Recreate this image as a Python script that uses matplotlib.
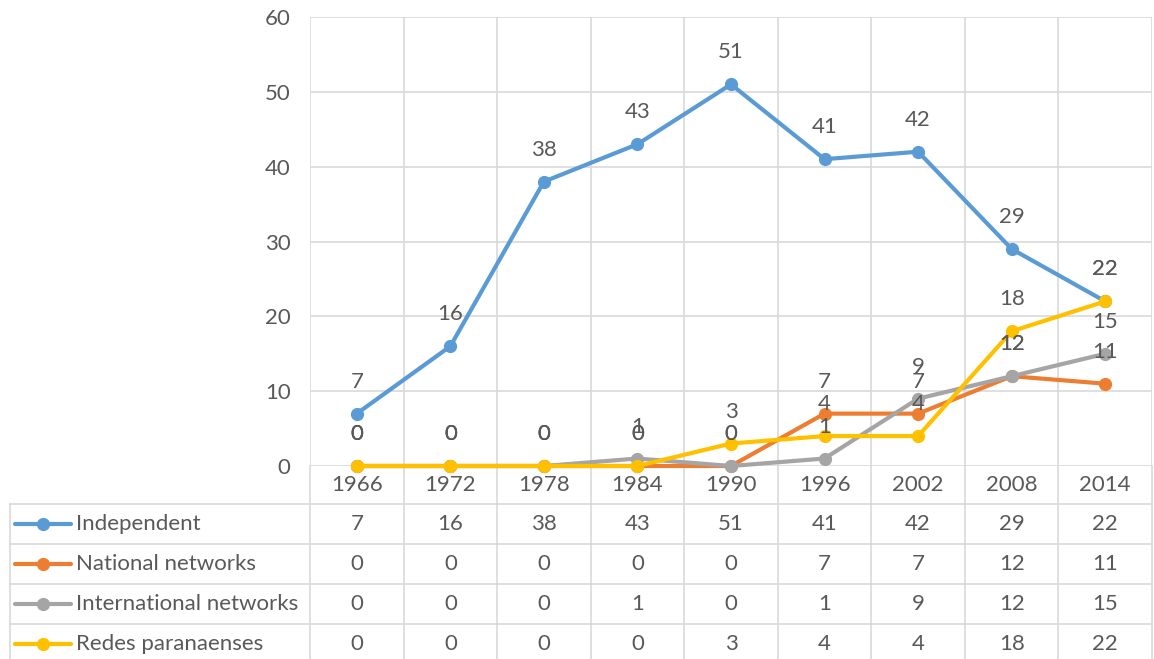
import matplotlib
matplotlib.use("Agg")
import matplotlib.pyplot as plt
import matplotlib.transforms as mtransforms

plt.rcParams["font.family"] = ["Lato", "DejaVu Sans"]

years = ["1966", "1972", "1978", "1984", "1990", "1996", "2002", "2008", "2014"]
independent = [7, 16, 38, 43, 51, 41, 42, 29, 22]
national = [0, 0, 0, 0, 0, 7, 7, 12, 11]
international = [0, 0, 0, 1, 0, 1, 9, 12, 15]
redes = [0, 0, 0, 0, 3, 4, 4, 18, 22]

names = ["Independent", "National networks", "International networks", "Redes paranaenses"]
series = [independent, national, international, redes]
colors = ["#5B9BD5", "#ED7D31", "#A5A5A5", "#FFC000"]

text_color = "#595959"
grid_color = "#D9D9D9"
fs = 16

W, H = 1154, 659
fig = plt.figure(figsize=(W / 100, H / 100), dpi=100)

# pixel layout
left, right, top, bottom = 310, 1152, 17, 466
ax = fig.add_axes([left / W, 1 - bottom / H, (right - left) / W, (bottom - top) / H])
tab = fig.add_axes([0, 0, 1, 1], zorder=-1)
tab.set_xlim(0, W)
tab.set_ylim(H, 0)
tab.axis("off")

x = list(range(len(years)))
for vals, col, name in zip(series, colors, names):
    ax.plot(x, vals, color=col, lw=3, marker="o", ms=8.5, solid_capstyle="round", clip_on=False)
    for xi, v in zip(x, vals):
        ax.annotate(str(v), (xi, v), xytext=(0, 23), textcoords="offset points",
                    ha="center", va="center", fontsize=fs, color=text_color)

ax.set_xlim(-0.5, len(years) - 0.5)
ax.set_ylim(0, 60)
ax.set_yticks(range(0, 61, 10))
ax.set_xticks([i - 0.5 for i in range(len(years) + 1)])
ax.set_xticklabels([])
ax.grid(True, color=grid_color, lw=1.2)
ax.tick_params(length=0, labelsize=fs, labelcolor=text_color, pad=14)
for s in ax.spines.values():
    s.set_visible(False)
ax.set_axisbelow(True)

# data table under the chart
blend = mtransforms.blended_transform_factory(ax.transData, tab.transData)
row_h = 40
table_top = 504
header_y = (bottom + table_top) / 2
table_bottom = table_top + row_h * len(series)

for i, yr in enumerate(years):
    tab.text(i, header_y, yr, transform=blend, ha="center", va="center",
             fontsize=fs, color=text_color)

for i in range(len(years) + 1):
    tab.plot([i - 0.5, i - 0.5], [bottom, table_bottom], transform=blend,
             color=grid_color, lw=1.2)
tab.plot([10, 10], [table_top, table_bottom], color=grid_color, lw=1.2)
for r in range(len(series) + 1):
    yy = table_top + r * row_h
    tab.plot([10, right], [yy, yy], color=grid_color, lw=1.2)

for r, (vals, col, name) in enumerate(zip(series, colors, names)):
    yc = table_top + r * row_h + row_h / 2
    tab.plot([15, 43, 71], [yc, yc, yc], color=col, lw=3, marker="o", ms=8.5,
             markevery=[1], solid_capstyle="round")
    tab.text(76, yc, name, ha="left", va="center", fontsize=fs, color=text_color)
    for i, v in enumerate(vals):
        tab.text(i, yc, str(v), transform=blend, ha="center", va="center",
                 fontsize=fs, color=text_color)

fig.savefig("out.png", dpi=100)
